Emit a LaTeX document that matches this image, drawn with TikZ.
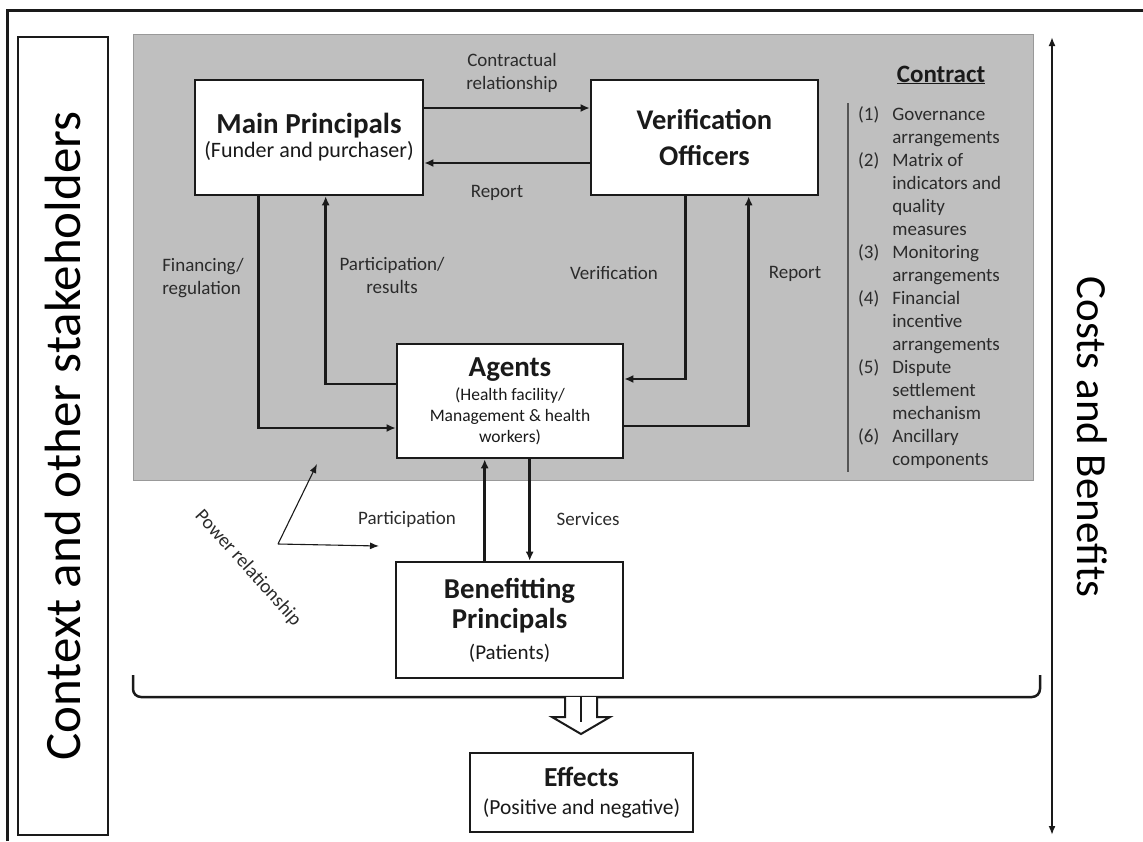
\documentclass[tikz,border=0pt]{standalone}
\usepackage{fontspec}
\setmainfont{Carlito}
\usetikzlibrary{arrows.meta, positioning, calc}
\definecolor{panelGrey}{HTML}{BFBFBF}
\definecolor{inkDark}{HTML}{1a1a1a}
\definecolor{labelInk}{HTML}{2b2b2b}
\definecolor{ruleGrey}{HTML}{555555}

\begin{document}
\begin{tikzpicture}[
    x=1pt, y=-1pt,
    box/.style={draw=inkDark, line width=2.6pt, fill=white, inner sep=0pt,
                align=center, text=inkDark},
    flow/.style={-{Latex[length=9pt,width=8pt]}, line width=2.8pt, draw=inkDark},
    thinflow/.style={-{Latex[length=9pt,width=7pt]}, line width=1.1pt, draw=inkDark},
    lbl/.style={font=\fontsize{19}{23}\selectfont, text=labelInk, align=center,
                inner sep=0pt},
    ]

\useasboundingbox (0,0) rectangle (1143,841);

% ====================================================================
% Frame, grey contract area, side boxes
% ====================================================================
\draw[inkDark, line width=3pt] (7,841) -- (7,10) -- (1143,10);
\fill[panelGrey, draw=black!40, line width=0.8pt] (133,34) rectangle (1033,480);

\node[draw=inkDark, line width=2.4pt, rotate=90, minimum width=798,
      minimum height=90, inner sep=0pt, font=\fontsize{51}{60}\selectfont]
  (ctx) at (63,436) {Context and other stakeholders};

% Costs and benefits double arrow
\coordinate (cbTop) at (1052,37);
\coordinate (cbBot) at (1052,835);
\draw[{Latex[length=9pt,width=7pt]}-{Latex[length=9pt,width=7pt]},
      line width=2.4pt, inkDark] (cbTop) -- (cbBot);
\node[rotate=-90, inner sep=0pt, font=\fontsize{43}{50}\selectfont]
  (cb) at (1092,437) {Costs and Benefits};

% ====================================================================
% Actors
% ====================================================================
\node[box, minimum width=228, minimum height=115, font=\fontsize{29}{24}\selectfont]
  (mp) at (309,137.5)
  {\textbf{Main Principals}\\{\fontsize{22}{24}\selectfont (Funder and purchaser)}};

\node[box, minimum width=227, minimum height=115,
      font=\bfseries\fontsize{28.5}{36}\selectfont]
  (vo) at (704.5,137.5) {Verification\\Officers};

\node[box, minimum width=226, minimum height=114, font=\fontsize{17.5}{21}\selectfont]
  (ag) at (510,401)
  {{\bfseries\fontsize{29}{21}\selectfont Agents}\\[3pt](Health facility/\\Management \& health\\workers)};

\node[box, minimum width=227, minimum height=116,
      font=\bfseries\fontsize{28.8}{30.5}\selectfont]
  (bp) at (509.5,620)
  {Benefitting\\Principals\\{\mdseries\fontsize{21}{30.5}\selectfont (Patients)}};

\node[box, minimum width=223, minimum height=79, font=\fontsize{21.5}{28}\selectfont]
  (eff) at (581.5,792.5)
  {{\bfseries\fontsize{27.5}{28}\selectfont Effects}\\(Positive and negative)};

% ====================================================================
% Relationships
% ====================================================================
\draw[flow] ($(mp.east)+(0,-29.5)$) -- ($(vo.west)+(0,-29.5)$);
\draw[flow] ($(vo.west)+(0,25.5)$) -- ($(mp.east)+(0,25.5)$);
\draw[flow] ($(mp.south west)+(65,0)$) |- ($(ag.west)+(0,27)$);
\draw[flow] ($(ag.west)+(0,-17)$) -| ($(mp.south west)+(132,0)$);
\draw[flow] ($(vo.south west)+(96,0)$) |- ($(ag.east)+(0,-22)$);
\draw[flow] ($(ag.east)+(0,25)$) -| ($(vo.south west)+(159,0)$);
\draw[flow] ($(bp.north west)+(90,0)$) -- ($(ag.south west)+(89,0)$);
\draw[flow] ($(ag.south west)+(134,0)$) -- ($(bp.north west)+(135,0)$);

\node[lbl] (lContract) at (512,73) {Contractual\\relationship};
\node[lbl] (lReportTop) at (497,193) {Report};
\node[lbl, align=left] (lFinance) at (203,278) {Financing/\\regulation};
\node[lbl] (lPartRes) at (392,275) {Participation/\\results};
\node[lbl] (lVerif) at (614,273) {Verification};
\node[lbl] (lReportSide) at (795,274) {Report};
\node[lbl] (lPart) at (407,519) {Participation};
\node[lbl] (lServ) at (588,519) {Services};

% Power relationship (thin arrows)
\coordinate (pwrVertex) at (278,544);
\coordinate (pwrUp) at (317,464);
\coordinate (pwrRight) at (379,546);
\draw[thinflow] (pwrVertex) -- (pwrUp);
\draw[thinflow] (pwrVertex) -- (pwrRight);
\node[lbl, rotate=-48, font=\fontsize{19.5}{23}\selectfont]
  (lPower) at (248,568) {Power relationship};

% ====================================================================
% Contract components
% ====================================================================
\node[font=\bfseries\fontsize{25}{30}\selectfont, text=inkDark, inner sep=0pt]
  (ctitle) at (941,75) {\underline{Contract}};
\draw[ruleGrey, line width=2.5pt] (848,103) -- (848,472);
\node[anchor=north west, inner sep=0pt, font=\fontsize{19}{23}\selectfont,
      text=labelInk]
  (clist) at (858,104)
  {\begin{tabular}{@{}l@{\hspace{13pt}}l@{}}
   (1) & Governance\\ & arrangements\\
   (2) & Matrix of\\ & indicators and\\ & quality\\ & measures\\
   (3) & Monitoring\\ & arrangements\\
   (4) & Financial\\ & incentive\\ & arrangements\\
   (5) & Dispute\\ & settlement\\ & mechanism\\
   (6) & Ancillary\\ & components
   \end{tabular}};

% ====================================================================
% Brace and effects
% ====================================================================
\coordinate (brTip) at (581,697);
\draw[inkDark, line width=2.5pt, rounded corners=8pt]
  (133,675) -- (133,697) -- (1040,697) -- (1040,675);
\draw[inkDark, line width=2pt, fill=white, line join=miter]
  ($(brTip)+(-16,0)$) -- ++(0,20) -- ++(-13,0) -- ($(brTip)+(0,37)$)
  -- ($(brTip)+(29,20)$) -- ++(-13,0) -- ++(0,-20);
\draw[inkDark, line width=2pt] (brTip) -- ++(0,25);

\end{tikzpicture}
\end{document}
